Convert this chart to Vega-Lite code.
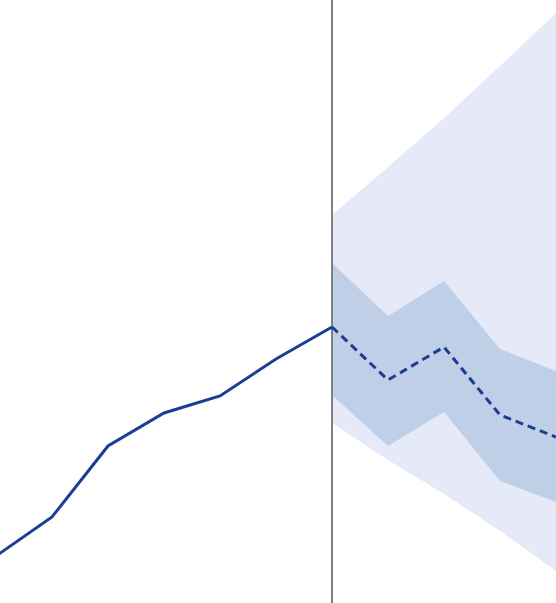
{
  "$schema": "https://vega.github.io/schema/vega-lite/v6.json",
  "width": 556,
  "height": 603,
  "padding": 0,
  "autosize": {"type": "none"},
  "config": {"view": {"stroke": null}},
  "data": {"values": [
    {"t": 0, "actual": 47},
    {"t": 1, "actual": 86},
    {"t": 2, "actual": 157},
    {"t": 3, "actual": 190},
    {"t": 4, "actual": 207},
    {"t": 5, "actual": 244},
    {"t": 6, "actual": 276, "fc": 276, "lo80": 208, "hi80": 340, "lo95": 180, "hi95": 388},
    {"t": 7, "fc": 223, "lo80": 157, "hi80": 287, "lo95": 143, "hi95": 436},
    {"t": 8, "fc": 256, "lo80": 191, "hi80": 322, "lo95": 109, "hi95": 485},
    {"t": 9, "fc": 188, "lo80": 122, "hi80": 254, "lo95": 72, "hi95": 537},
    {"t": 10, "fc": 166, "lo80": 101, "hi80": 232, "lo95": 32, "hi95": 590}
  ]},
  "encoding": {
    "x": {"field": "t", "type": "quantitative", "scale": {"domain": [0.0714, 10], "nice": false, "zero": false}, "axis": null}
  },
  "layer": [
    {
      "transform": [{"filter": "isValid(datum.fc)"}],
      "mark": {"type": "area", "color": "#e6e9f7", "opacity": 1},
      "encoding": {
        "y": {"field": "lo95", "type": "quantitative", "scale": {"domain": [0, 603], "nice": false, "zero": false}, "axis": null},
        "y2": {"field": "hi95"}
      }
    },
    {
      "transform": [{"filter": "isValid(datum.fc)"}],
      "mark": {"type": "area", "color": "#bfcfe7", "opacity": 1},
      "encoding": {
        "y": {"field": "lo80", "type": "quantitative", "scale": {"domain": [0, 603], "nice": false, "zero": false}, "axis": null},
        "y2": {"field": "hi80"}
      }
    },
    {
      "transform": [{"filter": "datum.t == 6"}],
      "mark": {"type": "rule", "color": "#808080", "strokeWidth": 2},
      "encoding": {}
    },
    {
      "transform": [{"filter": "isValid(datum.actual)"}],
      "mark": {"type": "line", "color": "#1a3e92", "strokeWidth": 3},
      "encoding": {
        "y": {"field": "actual", "type": "quantitative", "scale": {"domain": [0, 603], "nice": false, "zero": false}, "axis": null}
      }
    },
    {
      "transform": [{"filter": "isValid(datum.fc)"}],
      "mark": {"type": "line", "color": "#1a3e92", "strokeWidth": 3, "strokeDash": [8, 5]},
      "encoding": {
        "y": {"field": "fc", "type": "quantitative", "scale": {"domain": [0, 603], "nice": false, "zero": false}, "axis": null}
      }
    }
  ]
}
